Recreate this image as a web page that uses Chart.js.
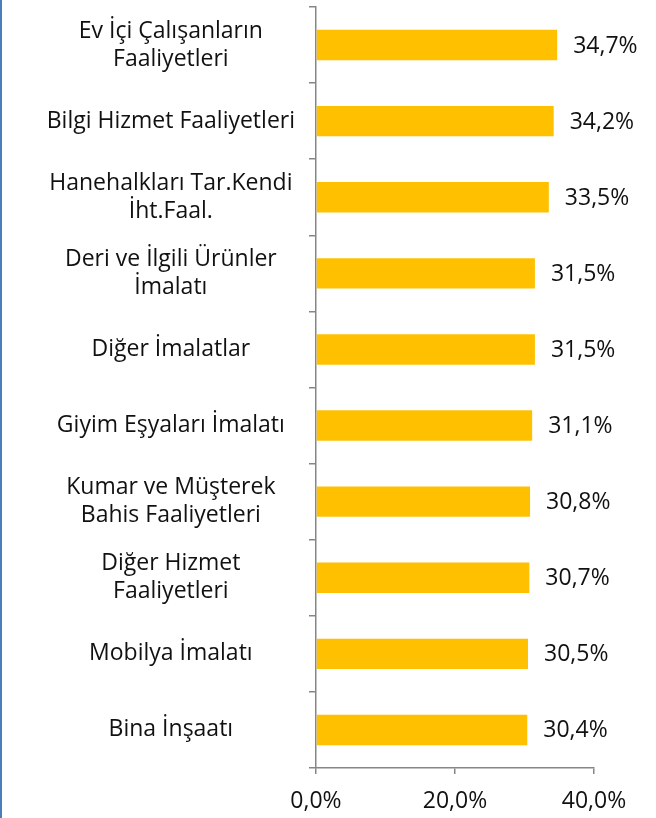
<!DOCTYPE html>
<html>
<head>
<meta charset="utf-8">
<script src="https://cdn.jsdelivr.net/npm/chart.js@4/dist/chart.umd.min.js"></script>
<style>
  body { margin: 0; background: #fff; }
  #wrap { position: relative; width: 656px; height: 818px; }
  #edge { position: absolute; left: 0; top: 0; width: 2px; height: 818px; background: #4a7ebb; }
</style>
</head>
<body>
<div id="wrap">
  <canvas id="barChart" width="656" height="818"></canvas>
  <div id="edge"></div>
</div>
<script>
// Sectors (top to bottom) and their shares
const sectors = [
    ['Ev İçi Çalışanların', 'Faaliyetleri'],
    'Bilgi Hizmet Faaliyetleri',
    ['Hanehalkları Tar.Kendi', 'İht.Faal.'],
    ['Deri ve İlgili Ürünler', 'İmalatı'],
    'Diğer İmalatlar',
    'Giyim Eşyaları İmalatı',
    ['Kumar ve Müşterek', 'Bahis Faaliyetleri'],
    ['Diğer Hizmet', 'Faaliyetleri'],
    'Mobilya İmalatı',
    'Bina İnşaatı'
];
const shares = [34.7, 34.2, 33.5, 31.5, 31.5, 31.1, 30.8, 30.7, 30.5, 30.4];
const xTicks = [0, 20, 40];

const fmt = v => v.toFixed(1).replace('.', ',') + '%';
const FONT = { family: '"Open Sans", sans-serif', size: 23, lineHeight: 1.22 };

// value labels to the right of each bar
const valueLabels = {
    id: 'valueLabels',
    afterDatasetsDraw(chart) {
        const ctx = chart.ctx;
        const meta = chart.getDatasetMeta(0);
        ctx.save();
        ctx.font = FONT.size + 'px ' + FONT.family;
        ctx.fillStyle = '#111';
        ctx.textAlign = 'left';
        ctx.textBaseline = 'middle';
        meta.data.forEach((bar, i) => {
            ctx.fillText(fmt(shares[i]), bar.x + 16, bar.y + 1);
        });
        ctx.restore();
    }
};

const barCtx = document.getElementById('barChart').getContext('2d');
new Chart(barCtx, {
    type: 'bar',
    data: {
        labels: sectors,
        datasets: [{
            data: shares,
            backgroundColor: '#ffc000',
            barPercentage: 0.4,
            categoryPercentage: 1
        }]
    },
    options: {
        indexAxis: 'y',
        responsive: false,
        animation: false,
        layout: { padding: { top: 7, right: 62, left: 0, bottom: 0 } },
        plugins: {
            legend: { display: false },
            tooltip: { enabled: false }
        },
        scales: {
            x: {
                min: 0,
                max: 40,
                afterBuildTicks: axis => { axis.ticks = xTicks.map(v => ({ value: v })); },
                afterFit: axis => { axis.height = 50; axis.paddingLeft = 0; axis.paddingRight = 0; },
                grid: { drawOnChartArea: false, drawTicks: true, tickLength: 6, color: '#868686', lineWidth: 1.5 },
                border: { color: '#868686', width: 1.5 },
                ticks: { color: '#111', font: FONT, padding: 13, callback: v => fmt(v), maxRotation: 0 }
            },
            y: {
                afterFit: axis => { axis.width = 316; axis.paddingTop = 0; axis.paddingBottom = 0; },
                grid: { drawOnChartArea: false, drawTicks: true, tickLength: 7, color: '#868686', lineWidth: 1.5, offset: true },
                border: { color: '#868686', width: 1.5 },
                ticks: { color: '#111', font: FONT, padding: 14, crossAlign: 'center', autoSkip: false }
            }
        }
    },
    plugins: [valueLabels]
});
</script>
</body>
</html>
